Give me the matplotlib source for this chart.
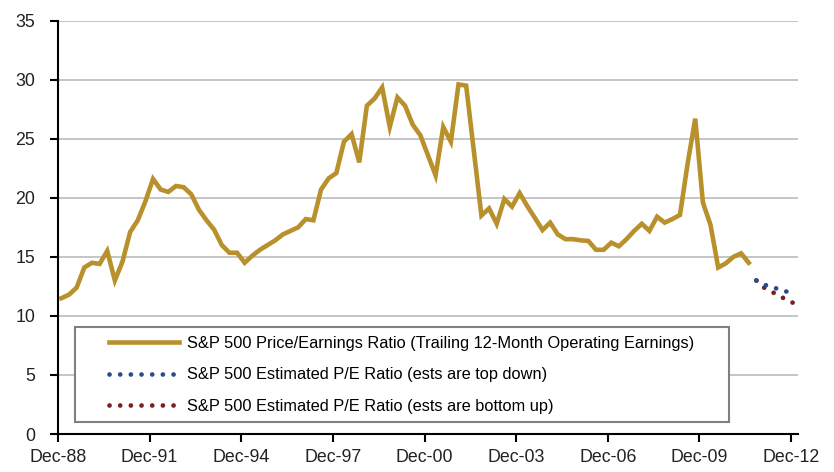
import numpy as np
import matplotlib
matplotlib.use('Agg')
import matplotlib.pyplot as plt
from matplotlib.patches import Rectangle

# quarterly P/E, Dec-88 .. Jun-11
pe = [11.5, 11.8, 12.4, 14.1, 14.5, 14.4, 15.5, 13.0, 14.6, 17.1,
      18.1, 19.7, 21.6, 20.7, 20.5, 21.0, 20.9, 20.3, 19.0, 18.1,
      17.3, 16.0, 15.35, 15.35, 14.5, 15.1, 15.6, 16.0, 16.4, 16.9,
      17.2, 17.5, 18.2, 18.1, 20.7, 21.65, 22.1, 24.75, 25.4, 23.0,
      27.8, 28.4, 29.35, 26.0, 28.5, 27.8, 26.2, 25.3, 23.6, 21.9,
      26.0, 24.75, 29.6, 29.5, 24.0, 18.5, 19.1, 17.8, 19.9, 19.25,
      20.4, 19.3, 18.3, 17.27, 17.9, 16.9, 16.5, 16.5, 16.4, 16.35,
      15.6, 15.6, 16.2, 15.9, 16.5, 17.2, 17.8, 17.2, 18.4, 17.9,
      18.2, 18.55, 22.9, 26.7, 19.6, 17.7, 14.1, 14.45, 15.0, 15.3, 14.5]
# estimates, Sep-11 .. Dec-12
est_top_down = [13.0, 12.65, 12.45, 12.25, 12.05, 11.9]
est_bottom_up = [13.0, 12.4, 12.05, 11.7, 11.35, 11.05]
tick_labels = ['Dec-88', 'Dec-91', 'Dec-94', 'Dec-97', 'Dec-00',
               'Dec-03', 'Dec-06', 'Dec-09', 'Dec-12']

gold = '#B8902C'
blue = '#2B4A8C'
maroon = '#7A1F1F'

plt.rcParams['font.family'] = ['Liberation Sans', 'DejaVu Sans']

fig = plt.figure(figsize=(8.34, 4.72), dpi=100)
ax = fig.add_axes([0.0695, 0.0805, 0.8873, 0.8757])

x_pe = np.arange(len(pe)) + 0.45
x_est = np.arange(len(est_top_down)) + len(pe) + 0.45

ax.plot(x_pe, pe, color=gold, lw=3.3, solid_joinstyle='miter', zorder=3,
        label='S&P 500 Price/Earnings Ratio (Trailing 12-Month Operating Earnings)')
ax.plot(x_est, est_bottom_up, color=maroon, lw=3.4, ls=(0, (0.01, 2.25)),
        dash_capstyle='round', zorder=3,
        label='S&P 500 Estimated P/E Ratio (ests are bottom up)')
ax.plot(x_est, est_top_down, color=blue, lw=3.4, ls=(0, (0.01, 2.25)),
        dash_capstyle='round', zorder=3,
        label='S&P 500 Estimated P/E Ratio (ests are top down)')

ax.set_xlim(0, 96.9)
ax.set_ylim(0, 35)
ax.set_xticks(np.arange(len(tick_labels)) * 12)
ax.set_xticklabels(tick_labels)
ax.set_yticks(np.arange(0, 36, 5))

ax.grid(axis='y', color='#C0C0C0', lw=1.3)
ax.set_axisbelow(True)
for s in ['top', 'right']:
    ax.spines[s].set_visible(False)
for s in ['left', 'bottom']:
    ax.spines[s].set_linewidth(1.5)
    ax.spines[s].set_zorder(4)
ax.tick_params(axis='both', direction='out', length=5.5, width=1.5,
               labelsize=12.8, colors='black', labelcolor='#222222')
ax.tick_params(axis='y', pad=11)
ax.tick_params(axis='x', pad=5)

# legend box
ax.add_patch(Rectangle((0.023, 0.029), 0.884, 0.230, transform=ax.transAxes,
                       facecolor='white', edgecolor='#808080', lw=1.5, zorder=5))
h, l = ax.get_legend_handles_labels()
leg = ax.legend([h[0], h[2], h[1]], [l[0], l[2], l[1]], loc='upper left',
                bbox_to_anchor=(0.069, 0.238), frameon=False, fontsize=11.8,
                handlelength=4.3, handletextpad=0.45, labelspacing=1.02,
                borderpad=0, borderaxespad=0)
leg.set_zorder(6)

fig.savefig('out.png', dpi=100)
